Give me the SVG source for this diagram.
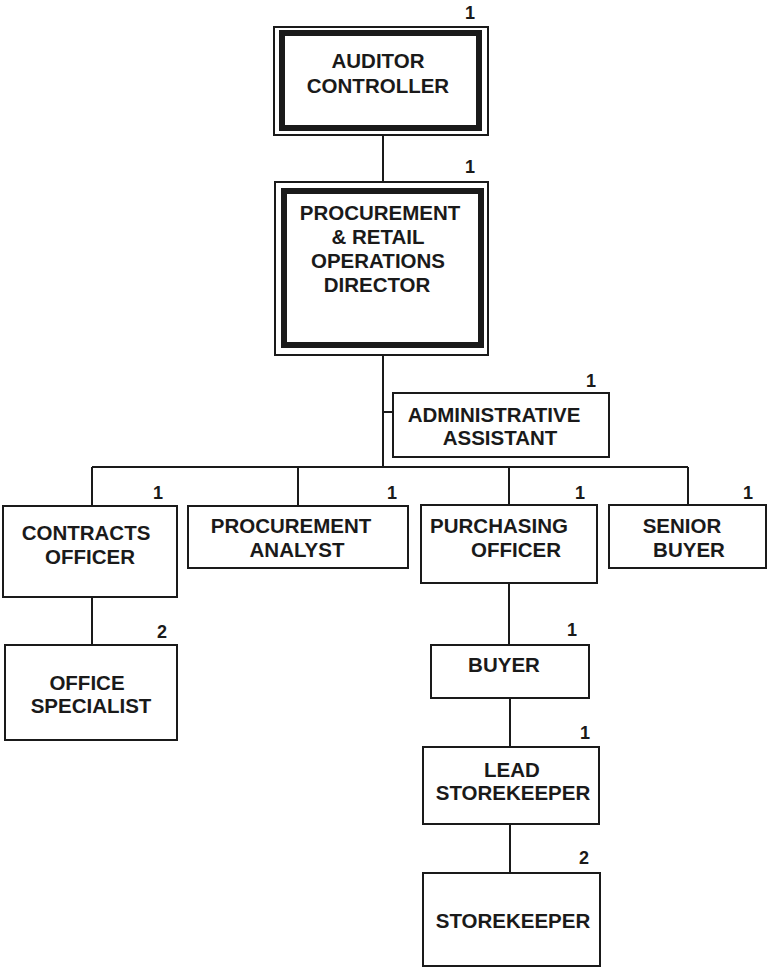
<svg xmlns="http://www.w3.org/2000/svg" width="767" height="968" viewBox="0 0 767 968">
<style>
text{font-family:"Liberation Sans",Arial,sans-serif;font-weight:bold;fill:#1a1a1a}
.t{font-size:20.5px;text-anchor:middle}
.n{font-size:18px;text-anchor:middle}
.box{fill:#fff;stroke:#1a1a1a;stroke-width:2}
.thick{fill:none;stroke:#1a1a1a;stroke-width:6}
.ln{fill:none;stroke:#1a1a1a;stroke-width:2}
</style>
<rect width="767" height="968" fill="#fff"/>
<g id="connectors">
<path class="ln" d="M383 135V183M383 355V467M383 412H393M92 467H688M92 467V506M298 467V506M509 467V505M688 467V505M92 597V645M509 583V645M510 698V747M510 824V873"/>
</g>
<g id="auditor">
<rect class="box" x="274" y="27" width="214" height="108"/>
<rect class="thick" x="282" y="33" width="197" height="95"/>
<text class="t" x="378" y="68">AUDITOR</text>
<text class="t" x="378" y="93">CONTROLLER</text>
<text class="n" x="470" y="19">1</text>
</g>
<g id="director">
<rect class="box" x="275" y="182" width="213" height="173"/>
<rect class="thick" x="284" y="191" width="197" height="154"/>
<text class="t" x="380" y="220">PROCUREMENT</text>
<text class="t" x="378" y="244">&amp; RETAIL</text>
<text class="t" x="378" y="268">OPERATIONS</text>
<text class="t" x="377" y="292">DIRECTOR</text>
<text class="n" x="470" y="173">1</text>
</g>
<g id="admin">
<rect class="box" x="393" y="393" width="216" height="64"/>
<text class="t" x="494" y="422">ADMINISTRATIVE</text>
<text class="t" x="500" y="445">ASSISTANT</text>
<text class="n" x="591" y="387">1</text>
</g>
<g id="contracts">
<rect class="box" x="3" y="506" width="174" height="91"/>
<text class="t" x="86" y="540">CONTRACTS</text>
<text class="t" x="90" y="564">OFFICER</text>
<text class="n" x="158" y="499">1</text>
</g>
<g id="analyst">
<rect class="box" x="188" y="506" width="220" height="62"/>
<text class="t" x="291" y="533">PROCUREMENT</text>
<text class="t" x="297" y="557">ANALYST</text>
<text class="n" x="392" y="499">1</text>
</g>
<g id="purchasing">
<rect class="box" x="421" y="505" width="176" height="78"/>
<text class="t" x="499" y="533">PURCHASING</text>
<text class="t" x="516" y="557">OFFICER</text>
<text class="n" x="580" y="499">1</text>
</g>
<g id="senior">
<rect class="box" x="609" y="505" width="157" height="63"/>
<text class="t" x="682" y="533">SENIOR</text>
<text class="t" x="689" y="557">BUYER</text>
<text class="n" x="748" y="499">1</text>
</g>
<g id="office">
<rect class="box" x="5" y="645" width="172" height="95"/>
<text class="t" x="87" y="690">OFFICE</text>
<text class="t" x="91" y="713">SPECIALIST</text>
<text class="n" x="162" y="638">2</text>
</g>
<g id="buyer">
<rect class="box" x="431" y="645" width="158" height="53"/>
<text class="t" x="504" y="672">BUYER</text>
<text class="n" x="572" y="636">1</text>
</g>
<g id="lead">
<rect class="box" x="423" y="747" width="176" height="77"/>
<text class="t" x="512" y="777">LEAD</text>
<text class="t" x="513" y="800">STOREKEEPER</text>
<text class="n" x="585" y="739">1</text>
</g>
<g id="storekeeper">
<rect class="box" x="423" y="873" width="177" height="93"/>
<text class="t" x="513" y="928">STOREKEEPER</text>
<text class="n" x="584" y="864">2</text>
</g>
</svg>
